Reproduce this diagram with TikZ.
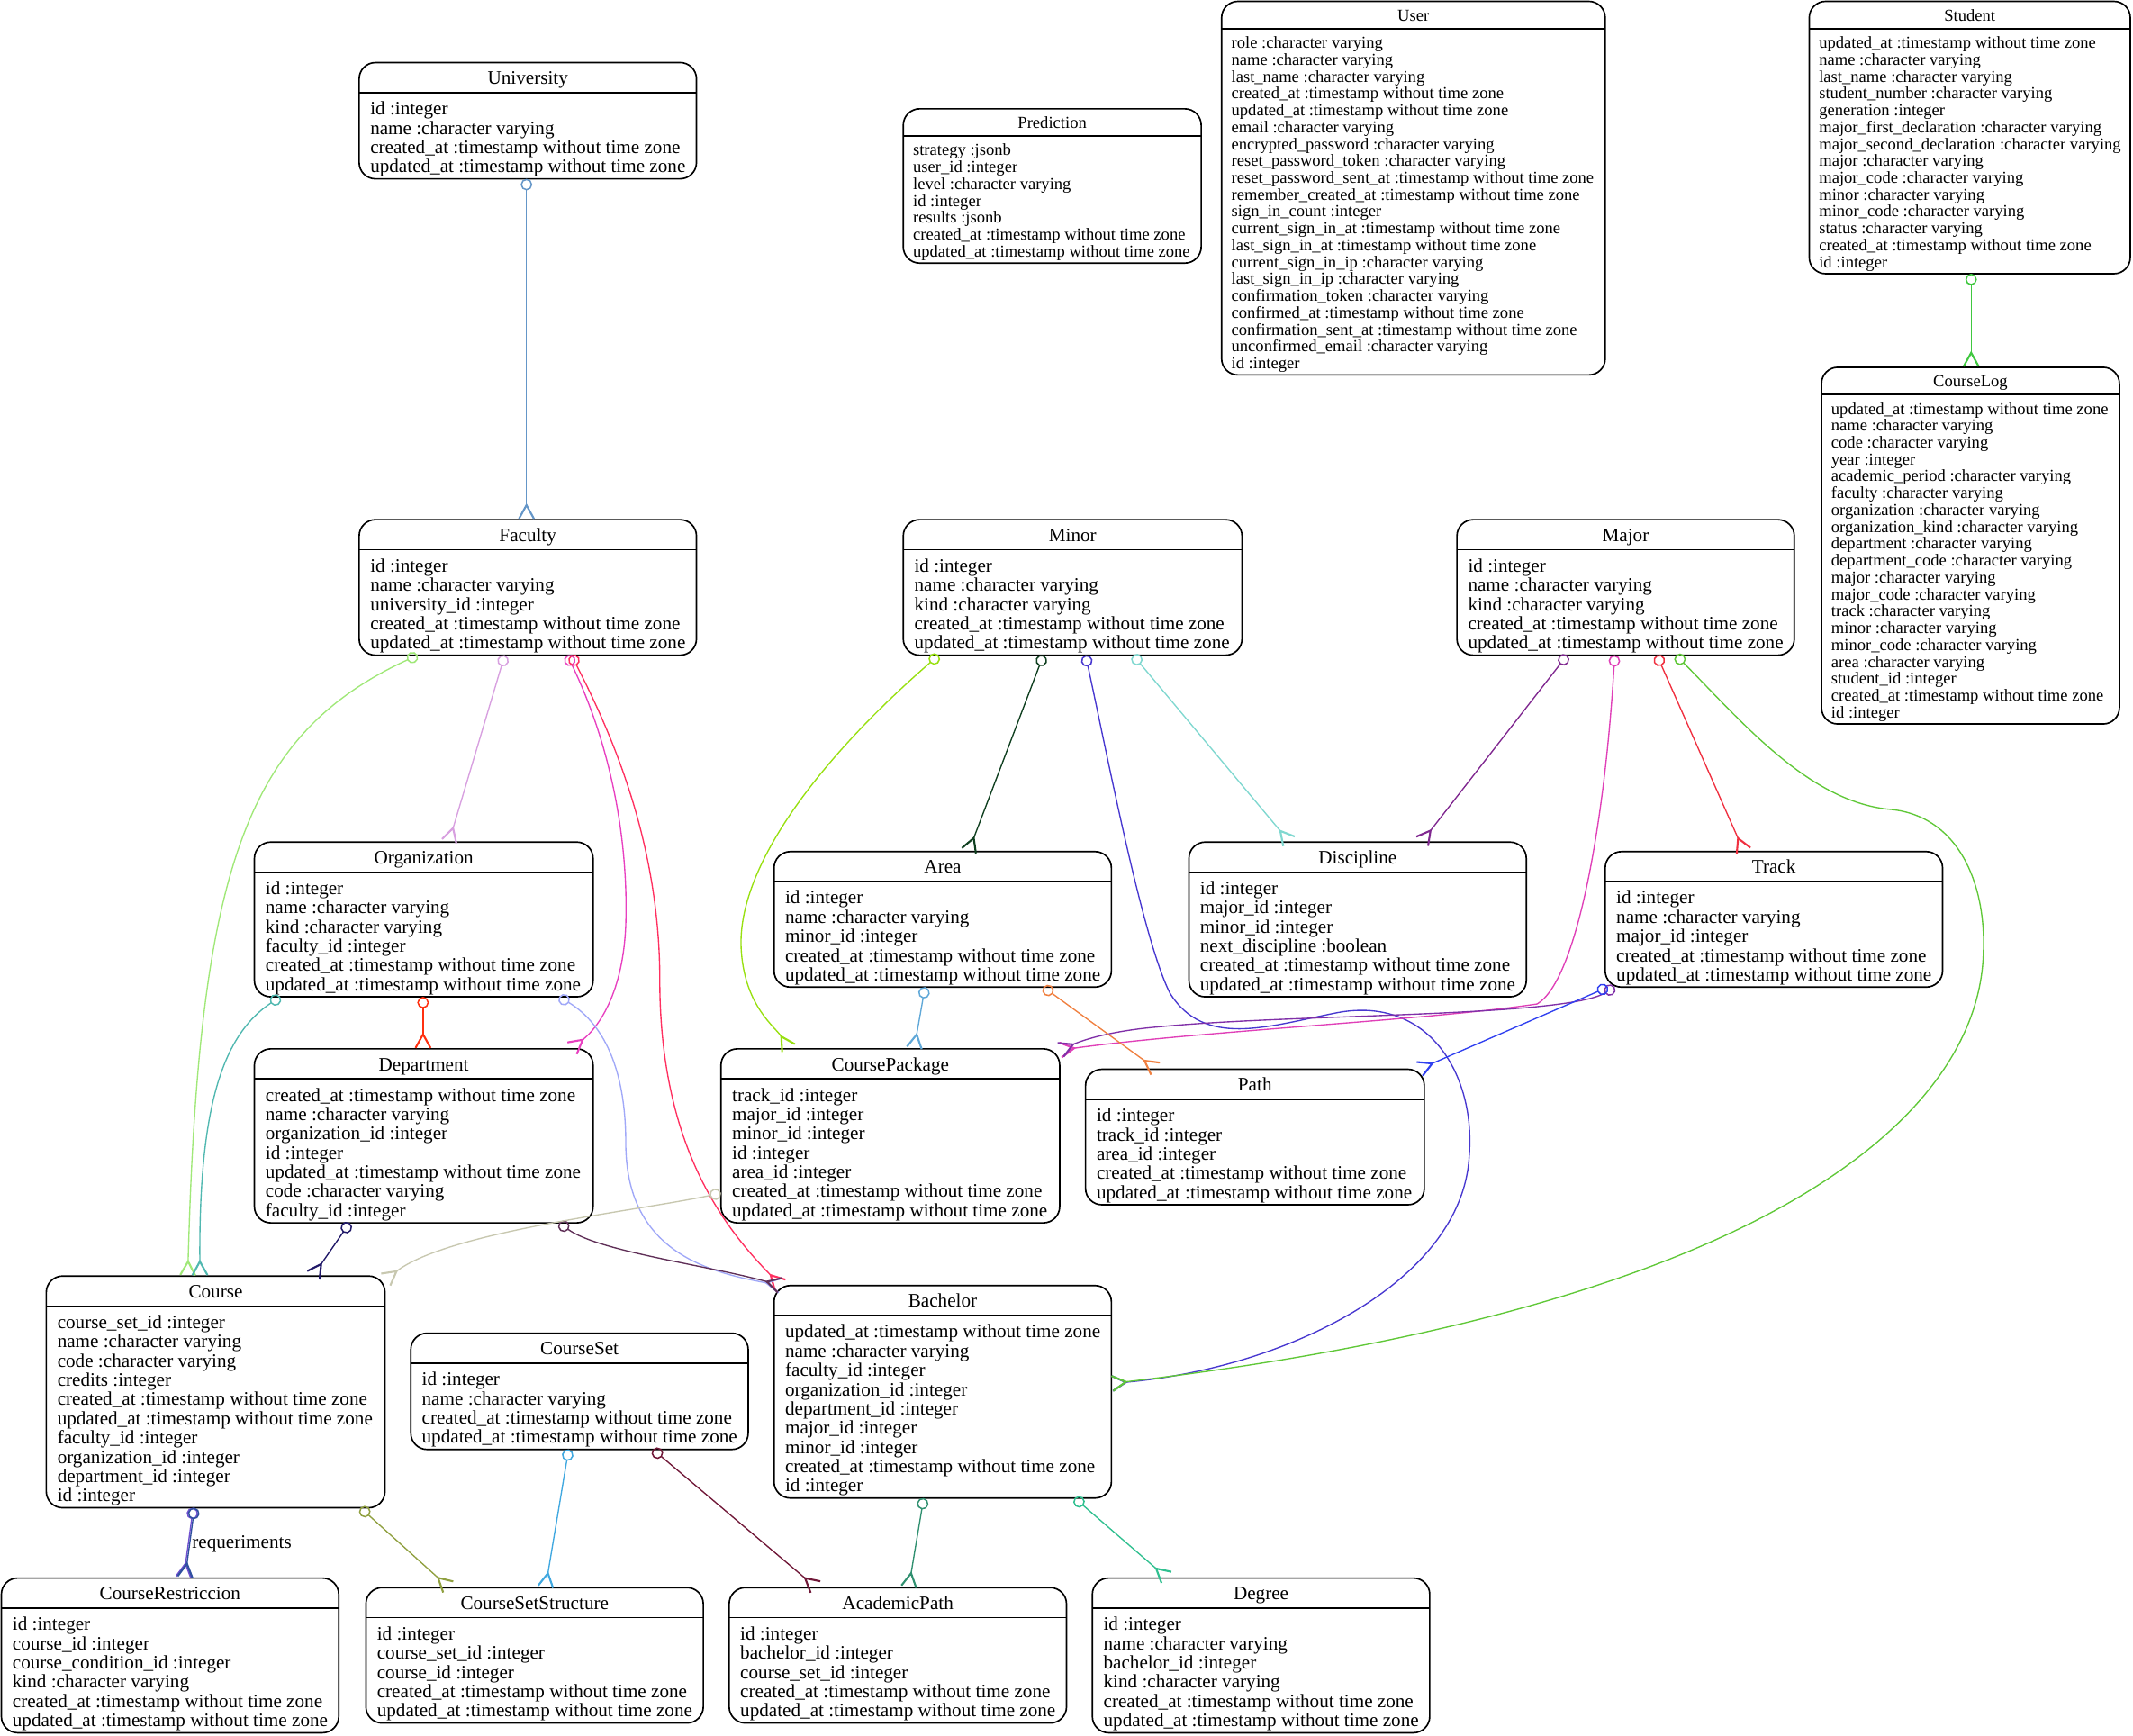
\documentclass[tikz,border=0pt]{standalone}
\usepackage{fontspec}
\setmainfont{Liberation Serif}
\usetikzlibrary{arrows.meta,calc}
\newcommand{\tsz}{:timestamp without time zone}
\newcommand{\chv}{:character varying}
\newcommand{\intg}{:integer}
\tikzset{
  tbl/.style={draw, rounded corners=12pt, line width=1.1pt, inner sep=0pt, outer sep=0pt},
  hdr/.style={line width=1.1pt},
  bigf/.style={font=\fontsize{14}{14.15}\selectfont},
  smallf/.style={font=\fontsize{12.3}{12.4}\selectfont},
  rel/.style={line width=0.9pt, {Circle[open,length=8.5pt,width=8.5pt,line width=1pt]}-{Straight Barb[reversed,length=10pt,width=11pt,line width=1.4pt]}},
}
\newcommand{\bigtbl}[7]{%
  \node[tbl, anchor=north west, minimum width={#4-#2}, minimum height={43+(#5-1)*14.15}] (#1) at (#2,#3) {};
  \draw[hdr] ([yshift=-22pt]#1.north west) -- ([yshift=-22pt]#1.north east);
  \node[bigf, anchor=base, inner sep=0pt] (#1-t) at ([yshift=-16pt]#1.north) {#6};
  \node[bigf, anchor=north west, inner sep=0pt, align=left] (#1-r) at ([xshift=8pt,yshift=-28.4pt]#1.north west) {\strut#7};
}
\newcommand{\smalltbl}[7]{%
  \node[tbl, anchor=north west, minimum width={#4-#2}, minimum height={39+(#5-1)*12.4}] (#1) at (#2,#3) {};
  \draw[hdr] ([yshift=-20pt]#1.north west) -- ([yshift=-20pt]#1.north east);
  \node[smallf, anchor=base, inner sep=0pt] (#1-t) at ([yshift=-14.5pt]#1.north) {#6};
  \node[smallf, anchor=north west, inner sep=0pt, align=left] (#1-r) at ([xshift=7pt,yshift=-25.6pt]#1.north west) {\strut#7};
}
\begin{document}
\begin{tikzpicture}[x=1pt,y=-1pt]
\fill[white] (0,0) rectangle (1568,1276);
\useasboundingbox (0,0) rectangle (1568,1276);

% ---------- tables ----------
\bigtbl{University}{264}{46}{512}{4}{University}{id \intg\\name \chv\\created\_at \tsz\\updated\_at \tsz}
\bigtbl{Faculty}{264}{382}{512}{5}{Faculty}{id \intg\\name \chv\\university\_id \intg\\created\_at \tsz\\updated\_at \tsz}
\bigtbl{Minor}{664}{382}{913}{5}{Minor}{id \intg\\name \chv\\kind \chv\\created\_at \tsz\\updated\_at \tsz}
\bigtbl{Major}{1071}{382}{1319}{5}{Major}{id \intg\\name \chv\\kind \chv\\created\_at \tsz\\updated\_at \tsz}
\bigtbl{Organization}{187}{619}{436}{6}{Organization}{id \intg\\name \chv\\kind \chv\\faculty\_id \intg\\created\_at \tsz\\updated\_at \tsz}
\bigtbl{Department}{187}{771}{436}{7}{Department}{created\_at \tsz\\name \chv\\organization\_id \intg\\id \intg\\updated\_at \tsz\\code \chv\\faculty\_id \intg}
\bigtbl{Area}{569}{626}{817}{5}{Area}{id \intg\\name \chv\\minor\_id \intg\\created\_at \tsz\\updated\_at \tsz}
\bigtbl{Discipline}{874}{619}{1122}{6}{Discipline}{id \intg\\major\_id \intg\\minor\_id \intg\\next\_discipline :boolean\\created\_at \tsz\\updated\_at \tsz}
\bigtbl{Track}{1180}{626}{1428}{5}{Track}{id \intg\\name \chv\\major\_id \intg\\created\_at \tsz\\updated\_at \tsz}
\bigtbl{CoursePackage}{530}{771}{779}{7}{CoursePackage}{track\_id \intg\\major\_id \intg\\minor\_id \intg\\id \intg\\area\_id \intg\\created\_at \tsz\\updated\_at \tsz}
\bigtbl{Path}{798}{786}{1047}{5}{Path}{id \intg\\track\_id \intg\\area\_id \intg\\created\_at \tsz\\updated\_at \tsz}
\bigtbl{Course}{34}{938}{283}{10}{Course}{course\_set\_id \intg\\name \chv\\code \chv\\credits \intg\\created\_at \tsz\\updated\_at \tsz\\faculty\_id \intg\\organization\_id \intg\\department\_id \intg\\id \intg}
\bigtbl{CourseSet}{302}{980}{550}{4}{CourseSet}{id \intg\\name \chv\\created\_at \tsz\\updated\_at \tsz}
\bigtbl{Bachelor}{569}{945}{817}{9}{Bachelor}{updated\_at \tsz\\name \chv\\faculty\_id \intg\\organization\_id \intg\\department\_id \intg\\major\_id \intg\\minor\_id \intg\\created\_at \tsz\\id \intg}
\bigtbl{CourseRestriccion}{1}{1160}{249}{6}{CourseRestriccion}{id \intg\\course\_id \intg\\course\_condition\_id \intg\\kind \chv\\created\_at \tsz\\updated\_at \tsz}
\bigtbl{CourseSetStructure}{269}{1167}{517}{5}{CourseSetStructure}{id \intg\\course\_set\_id \intg\\course\_id \intg\\created\_at \tsz\\updated\_at \tsz}
\bigtbl{AcademicPath}{536}{1167}{784}{5}{AcademicPath}{id \intg\\bachelor\_id \intg\\course\_set\_id \intg\\created\_at \tsz\\updated\_at \tsz}
\bigtbl{Degree}{803}{1160}{1051}{6}{Degree}{id \intg\\name \chv\\bachelor\_id \intg\\kind \chv\\created\_at \tsz\\updated\_at \tsz}
\smalltbl{Prediction}{664}{80}{883}{7}{Prediction}{strategy :jsonb\\user\_id \intg\\level \chv\\id \intg\\results :jsonb\\created\_at \tsz\\updated\_at \tsz}
\smalltbl{User}{898}{1}{1180}{20}{User}{role \chv\\name \chv\\last\_name \chv\\created\_at \tsz\\updated\_at \tsz\\email \chv\\encrypted\_password \chv\\reset\_password\_token \chv\\reset\_password\_sent\_at \tsz\\remember\_created\_at \tsz\\sign\_in\_count \intg\\current\_sign\_in\_at \tsz\\last\_sign\_in\_at \tsz\\current\_sign\_in\_ip \chv\\last\_sign\_in\_ip \chv\\confirmation\_token \chv\\confirmed\_at \tsz\\confirmation\_sent\_at \tsz\\unconfirmed\_email \chv\\id \intg}
\smalltbl{Student}{1330}{1}{1566}{14}{Student}{updated\_at \tsz\\name \chv\\last\_name \chv\\student\_number \chv\\generation \intg\\major\_first\_declaration \chv\\major\_second\_declaration \chv\\major \chv\\major\_code \chv\\minor \chv\\minor\_code \chv\\status \chv\\created\_at \tsz\\id \intg}
\smalltbl{CourseLog}{1339}{270}{1558}{19}{CourseLog}{updated\_at \tsz\\name \chv\\code \chv\\year \intg\\academic\_period \chv\\faculty \chv\\organization \chv\\organization\_kind \chv\\department \chv\\department\_code \chv\\major \chv\\major\_code \chv\\track \chv\\minor \chv\\minor\_code \chv\\area \chv\\student\_id \intg\\created\_at \tsz\\id \intg}

% ---------- relations ----------
\draw[rel, color={rgb,255:red,100;green,150;blue,200}] ([xshift=123]University.south west) -- ([xshift=123]Faculty.north west);
\draw[rel, color={rgb,255:red,160;green,232;blue,120}] ([xshift=43]Faculty.south west) .. controls (180,540) and (146,640) .. ([xshift=104]Course.north west);
\draw[rel, color={rgb,255:red,216;green,160;blue,224}] ([xshift=107]Faculty.south west) -- ([xshift=143]Organization.north west);
\draw[rel, color={rgb,255:red,232;green,64;blue,192}] ([xshift=153]Faculty.south west) .. controls (450,550) and (462,620) .. (460,680) .. controls (458,730) and (440,755) .. ([xshift=233]Department.north west);
\draw[rel, color={rgb,255:red,255;green,48;blue,96}] ([xshift=156]Faculty.south west) .. controls (450,540) and (485,620) .. (485,720) .. controls (485,840) and (530,900) .. ([xshift=5]Bachelor.north west);
\draw[rel, color={rgb,255:red,80;green,184;blue,176}] ([xshift=19]Organization.south west) .. controls (165,760) and (146,810) .. ([xshift=113]Course.north west);
\draw[rel, color={rgb,255:red,255;green,48;blue,16}] ([xshift=124]Organization.south west) -- ([xshift=124]Department.north west);
\draw[rel, color={rgb,255:red,160;green,168;blue,248}] ([xshift=224]Organization.south west) .. controls (440,750) and (460,780) .. (460,840) .. controls (460,920) and (520,935) .. ([xshift=5]Bachelor.north west);
\draw[rel, color={rgb,255:red,32;green,24;blue,104}] ([xshift=70]Department.south west) -- ([xshift=196]Course.north west);
\draw[rel, color={rgb,255:red,96;green,48;blue,88}] ([xshift=224]Department.south west) .. controls (440,920) and (520,930) .. ([xshift=5]Bachelor.north west);
\draw[rel, color={rgb,255:red,200;green,200;blue,176}] ([yshift=-106]CoursePackage.north west) .. controls (470,890) and (330,905) .. ([yshift=-3]Course.north east);
\draw[rel, color={rgb,255:red,112;green,80;blue,208}] ([xshift=108]Course.south west) -- ([xshift=134]CourseRestriccion.north west);
\draw[rel, color={rgb,255:red,48;green,80;blue,160}] ([xshift=109]Course.south west) -- ([xshift=135]CourseRestriccion.north west);
\node[bigf, anchor=west, inner sep=0pt] (reqlabel) at (141,1135) {requeriments};
\draw[rel, color={rgb,255:red,144;green,160;blue,64}] ([xshift=231]Course.south west) -- ([xshift=61]CourseSetStructure.north west);
\draw[rel, color={rgb,255:red,64;green,168;blue,224}] ([xshift=116]CourseSet.south west) -- ([xshift=132]CourseSetStructure.north west);
\draw[rel, color={rgb,255:red,112;green,24;blue,56}] ([xshift=178]CourseSet.south west) -- ([xshift=64]AcademicPath.north west);
\draw[rel, color={rgb,255:red,48;green,144;blue,112}] ([xshift=110]Bachelor.south west) -- ([xshift=132]AcademicPath.north west);
\draw[rel, color={rgb,255:red,48;green,192;blue,144}] ([xshift=221]Bachelor.south west) -- ([xshift=55]Degree.north west);
\draw[rel, color={rgb,255:red,152;green,224;blue,16}] ([xshift=26]Minor.south west) .. controls (600,560) and (540,640) .. (545,700) .. controls (548,740) and (570,755) .. ([xshift=50]CoursePackage.north west);
\draw[rel, color={rgb,255:red,16;green,64;blue,32}] ([xshift=103]Minor.south west) -- ([xshift=143]Area.north west);
\draw[rel, color={rgb,255:red,72;green,56;blue,208}] ([xshift=134]Minor.south west) .. controls (815,560) and (840,690) .. (860,730) .. controls (885,770) and (930,755) .. (980,745) .. controls (1050,730) and (1085,790) .. (1080,850) .. controls (1075,940) and (950,1005) .. ([yshift=-72]Bachelor.north east);
\draw[rel, color={rgb,255:red,128;green,216;blue,208}] ([xshift=169]Minor.south west) -- ([xshift=74]Discipline.north west);
\draw[rel, color={rgb,255:red,128;green,40;blue,144}] ([xshift=81]Major.south west) -- ([xshift=171]Discipline.north west);
\draw[rel, color={rgb,255:red,224;green,64;blue,184}] ([xshift=116]Major.south west) .. controls (1180,600) and (1160,720) .. (1130,738) .. controls (1050,750) and (880,758) .. ([yshift=-1]CoursePackage.north east);
\draw[rel, color={rgb,255:red,240;green,48;blue,64}] ([xshift=147]Major.south west) -- ([xshift=102]Track.north west);
\draw[rel, color={rgb,255:red,96;green,200;blue,56}] ([xshift=161]Major.south west) .. controls (1280,530) and (1330,590) .. (1390,595) .. controls (1440,600) and (1460,650) .. (1458,700) .. controls (1455,820) and (1300,960) .. ([yshift=-72]Bachelor.north east);
\draw[rel, color={rgb,255:red,128;green,48;blue,168}] ([xshift=7]Track.south west) .. controls (1150,748) and (950,745) .. (850,755) .. controls (815,758) and (795,765) .. ([yshift=-1]CoursePackage.north east);
\draw[rel, color={rgb,255:red,48;green,64;blue,240}] ([xshift=2]Track.south west) -- ([xshift=245]Path.north west);
\draw[rel, color={rgb,255:red,96;green,168;blue,216}] ([xshift=111]Area.south west) -- ([xshift=142]CoursePackage.north west);
\draw[rel, color={rgb,255:red,240;green,128;blue,64}] ([xshift=198]Area.south west) -- ([xshift=52]Path.north west);
\draw[rel, color={rgb,255:red,64;green,200;blue,64}] ([xshift=119]Student.south west) -- ([xshift=110]CourseLog.north west);
\end{tikzpicture}
\end{document}
